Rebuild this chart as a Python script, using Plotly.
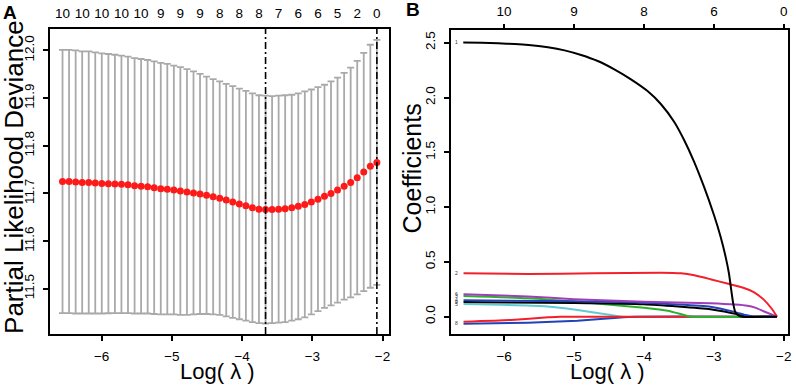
import plotly.graph_objects as go

# ---------------- Panel A data (cross-validation curve) ----------------
log_lambda = [-6.557, -6.464, -6.370, -6.277, -6.184, -6.091, -5.998, -5.904, -5.811, -5.718,
              -5.625, -5.531, -5.438, -5.345, -5.252, -5.158, -5.065, -4.972, -4.879, -4.785,
              -4.692, -4.599, -4.506, -4.412, -4.319, -4.226, -4.133, -4.039, -3.946, -3.853,
              -3.760, -3.666, -3.573, -3.480, -3.387, -3.293, -3.200, -3.107, -3.014, -2.920,
              -2.827, -2.734, -2.641, -2.547, -2.454, -2.361, -2.268, -2.174, -2.081]
cv_mean = [11.725, 11.725, 11.724, 11.723, 11.723, 11.722, 11.721, 11.7205, 11.720, 11.719,
           11.718, 11.716, 11.715, 11.714, 11.712, 11.710, 11.709, 11.707, 11.705, 11.703,
           11.701, 11.699, 11.696, 11.693, 11.690, 11.686, 11.682, 11.678, 11.674, 11.670,
           11.667, 11.666, 11.666, 11.667, 11.668, 11.670, 11.673, 11.677, 11.682, 11.688,
           11.694, 11.700, 11.707, 11.715, 11.723, 11.733, 11.745, 11.757, 11.765]
cv_se = [0.276, 0.276, 0.276, 0.275, 0.275, 0.274, 0.273, 0.272, 0.271, 0.270,
         0.269, 0.268, 0.267, 0.266, 0.265, 0.264, 0.263, 0.261, 0.260, 0.258,
         0.255, 0.252, 0.249, 0.247, 0.245, 0.244, 0.243, 0.242, 0.241, 0.240,
         0.239, 0.239, 0.238, 0.238, 0.238, 0.237, 0.237, 0.237, 0.236, 0.235,
         0.234, 0.235, 0.236, 0.238, 0.241, 0.245, 0.250, 0.255, 0.257]
top_df_labels = ["10", "10", "10", "10", "10", "9", "9", "9", "8", "8", "8", "7", "6", "6", "5", "2", "0"]
idx_lambda_min = 31
idx_lambda_1se = 48
a_xticks = [-6, -5, -4, -3, -2]
a_yticks = [11.5, 11.6, 11.7, 11.8, 11.9, 12.0]

# ---------------- Panel B data (coefficient paths) ----------------
b_xticks = [-6, -5, -4, -3, -2]
b_top_labels = ["10", "9", "8", "6", "0"]
b_yticks = [0.0, 0.5, 1.0, 1.5, 2.0, 2.5]

cyan_x = [-6.58, -5.42, -4.95, -4.47, -4.33, -2.097]
cyan_y = [0.115, 0.095, 0.061, 0.015, 0.0, 0.0]
blue_low_x = [-6.58, -5.66, -4.95, -4.38, -4.10, -2.097]
blue_low_y = [-0.065, -0.055, -0.036, -0.009, 0.0, 0.0]
red_low_x = [-6.58, -5.90, -5.37, -5.20, -2.097]
red_low_y = [-0.046, -0.030, -0.006, 0.0, 0.0]
green_x = [-6.58, -5.66, -4.71, -4.00, -3.66, -3.45, -3.33, -2.097]
green_y = [0.189, 0.168, 0.122, 0.082, 0.055, 0.020, 0.0, 0.0]
black_small_x = [-6.58, -5.00, -4.00, -3.05, -2.67, -2.50, -2.43, -2.097]
black_small_y = [0.133, 0.125, 0.113, 0.067, 0.024, 0.005, 0.0, 0.0]
blue_x = [-6.58, -5.00, -4.00, -3.05, -2.72, -2.55, -2.43, -2.097]
blue_y = [0.150, 0.140, 0.128, 0.091, 0.046, 0.015, 0.0, 0.0]
purple_x = [-6.58, -5.66, -5.00, -4.00, -3.05, -2.52, -2.40, -2.29, -2.097]
purple_y = [0.204, 0.185, 0.160, 0.137, 0.122, 0.100, 0.080, 0.050, 0.0]
red2_x = [-6.58, -5.66, -4.71, -3.76, -3.47, -3.28, -3.05, -2.81, -2.57, -2.43, -2.29, -2.17, -2.097]
red2_y = [0.396, 0.390, 0.396, 0.402, 0.396, 0.378, 0.342, 0.302, 0.262, 0.225, 0.158, 0.070, 0.0]
black1_x = [-6.584, -6.323, -6.085, -5.848, -5.611, -5.373, -5.136, -4.899, -4.661, -4.424,
            -4.186, -3.949, -3.759, -3.569, -3.426, -3.284, -3.142, -2.999, -2.904, -2.833,
            -2.785, -2.752, -2.724, -2.691, -2.643, -2.60, -2.097]
black1_y = [2.503, 2.500, 2.494, 2.488, 2.476, 2.458, 2.430, 2.388, 2.333, 2.257,
            2.166, 2.059, 1.941, 1.779, 1.612, 1.415, 1.186, 0.928, 0.730, 0.548,
            0.396, 0.244, 0.122, 0.037, 0.009, 0.0, 0.0]
path_labels = ["1", "2", "6", "3", "4", "9", "5", "8"]
path_label_y = [2.503, 0.396, 0.204, 0.189, 0.150, 0.133, 0.115, -0.055]

W, H = 796, 386
FONT = "Liberation Sans, Arial, Helvetica, sans-serif"

def px_x(p):
    return p / W

def px_y(p):
    return 1 - p / H

fig = go.Figure()

# Panel A: error bars + points
fig.add_trace(go.Scatter(
    x=log_lambda, y=cv_mean, mode="markers",
    marker=dict(color="#FF1A1A", size=7, line=dict(width=0)),
    error_y=dict(type="data", array=cv_se, visible=True, color="#A9A9A9", thickness=1.8, width=3.5),
    xaxis="x", yaxis="y", showlegend=False, hoverinfo="skip"))
# invisible helper so the top axis of A is drawn
fig.add_trace(go.Scatter(x=log_lambda[::3], y=[cv_mean[0]] * len(log_lambda[::3]), mode="markers",
                         marker=dict(opacity=0), xaxis="x3", yaxis="y", showlegend=False, hoverinfo="skip"))

# Panel B: coefficient paths
paths = [
    (cyan_x, cyan_y, "#5FCBD3"),
    (blue_low_x, blue_low_y, "#2143B5"),
    (red_low_x, red_low_y, "#F2202A"),
    (green_x, green_y, "#2DB12D"),
    (black_small_x, black_small_y, "#000000"),
    (blue_x, blue_y, "#2143B5"),
    (purple_x, purple_y, "#9E3FB8"),
    (red2_x, red2_y, "#F2202A"),
    (black1_x, black1_y, "#000000"),
]
for xs, ys, col in paths:
    fig.add_trace(go.Scatter(x=xs, y=ys, mode="lines",
                             line=dict(color=col, width=2, shape="spline", smoothing=0.5),
                             xaxis="x2", yaxis="y2", showlegend=False, hoverinfo="skip"))
fig.add_trace(go.Scatter(x=b_xticks, y=[0] * len(b_xticks), mode="markers", marker=dict(opacity=0),
                         xaxis="x4", yaxis="y2", showlegend=False, hoverinfo="skip"))

# path labels (tiny)
for lab, yv in zip(path_labels, path_label_y):
    fig.add_annotation(x=-6.68, y=yv, xref="x2", yref="y2", text=lab, showarrow=False,
                       font=dict(family=FONT, size=5, color="#333333"))

# vertical dashed lines in A
for idx in (idx_lambda_min, idx_lambda_1se):
    fig.add_shape(type="line", xref="x", yref="y domain", x0=log_lambda[idx], x1=log_lambda[idx],
                  y0=0, y1=1, line=dict(color="black", width=1.6, dash="7px,3px,2px,3px"))

axis_common = dict(showline=True, linecolor="black", linewidth=1.8, mirror=True,
                   ticks="outside", ticklen=5, tickwidth=1.5, tickcolor="black",
                   showgrid=False, zeroline=False,
                   tickfont=dict(family=FONT, size=13.5, color="black"))

a_xrange = [-6.738, -1.915]
b_xrange = [-6.755, -1.94]

fig.update_layout(
    width=W, height=H, margin=dict(l=0, r=0, t=0, b=0),
    paper_bgcolor="white", plot_bgcolor="white",
    xaxis=dict(domain=[px_x(50), px_x(390)], range=a_xrange, anchor="y",
               tickvals=a_xticks, ticklabelstandoff=4, **axis_common),
    yaxis=dict(domain=[px_y(334), px_y(29)], range=[11.405, 12.045], anchor="x",
               tickvals=a_yticks, ticktext=[f"{v:.1f}" for v in a_yticks], tickangle=-90,
               ticklabelstandoff=4, **axis_common),
    xaxis3=dict(overlaying="x", side="top", range=a_xrange, anchor="y",
                tickvals=log_lambda[::3], ticktext=top_df_labels, ticks="", showline=False,
                showgrid=False, zeroline=False, ticklabelstandoff=7,
                tickfont=dict(family=FONT, size=13.5, color="black")),
    xaxis2=dict(domain=[px_x(453), px_x(791)], range=b_xrange, anchor="y2",
                tickvals=b_xticks, ticklabelstandoff=4, **axis_common),
    yaxis2=dict(domain=[px_y(334), px_y(30)], range=[-0.158, 2.616], anchor="x2",
                tickvals=b_yticks, ticktext=[f"{v:.1f}" for v in b_yticks], tickangle=-90,
                ticklabelstandoff=4, **axis_common),
    xaxis4=dict(overlaying="x2", side="top", range=b_xrange, anchor="y2",
                tickvals=b_xticks, ticktext=b_top_labels, ticks="outside", ticklen=5,
                tickwidth=1.5, tickcolor="black", showline=False, showgrid=False, zeroline=False,
                ticklabelstandoff=3, tickfont=dict(family=FONT, size=13.5, color="black")),
)

ann = [
    dict(text="Partial Likelihood Deviance", x=px_x(14), y=px_y(177), textangle=-90, size=26),
    dict(text="Log( λ )", x=px_x(218), y=px_y(371), textangle=0, size=22),
    dict(text="Coefficients", x=px_x(414), y=px_y(168), textangle=-90, size=25),
    dict(text="Log( λ )", x=px_x(610), y=px_y(371), textangle=0, size=22),
    dict(text="<b>A</b>", x=px_x(10.5), y=px_y(12.5), textangle=0, size=19),
    dict(text="<b>B</b>", x=px_x(415), y=px_y(9.5), textangle=0, size=19),
]
for a in ann:
    fig.add_annotation(text=a["text"], x=a["x"], y=a["y"], xref="paper", yref="paper",
                       xanchor="center", yanchor="middle", showarrow=False, textangle=a["textangle"],
                       font=dict(family=FONT, size=a["size"], color="black"))

fig.write_html("out.html", config={"displayModeBar": False},
               post_script="document.body.style.margin='0';document.body.style.overflow='hidden';")
